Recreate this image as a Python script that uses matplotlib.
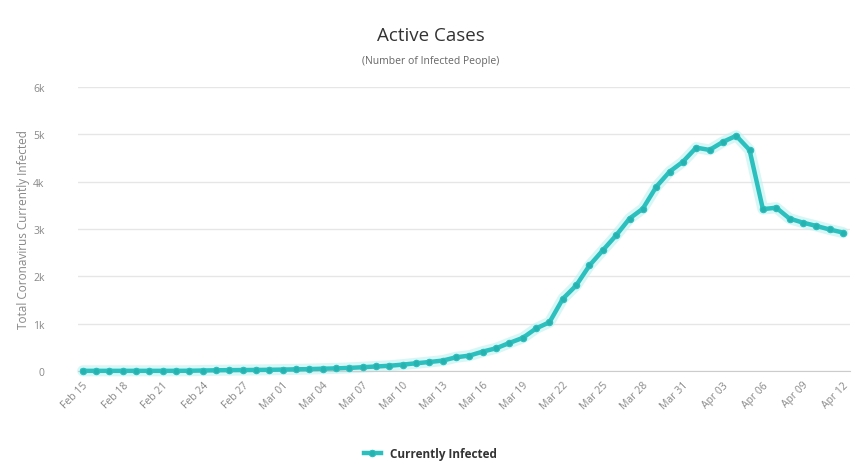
import matplotlib.pyplot as plt
import pandas as pd

plt.rcParams['font.family'] = ['Open Sans', 'DejaVu Sans']

dates = pd.date_range('2020-02-15', '2020-04-12', freq='D')
active = [3, 3, 3, 3, 3, 3, 3, 3, 5, 10,
          15, 18, 20, 22, 25, 30, 35, 40, 48, 55,
          65, 80, 95, 110, 135, 163, 190, 220, 290, 325,
          410, 480, 593, 700, 900, 1030, 1525, 1807, 2230, 2550,
          2867, 3220, 3430, 3890, 4210, 4420, 4720, 4670, 4840, 4970,
          4670, 3420, 3450, 3220, 3135, 3065, 2990, 2925]
tick_labels = [d.strftime('%b %d') for d in dates[::3]]
y_ticks = [0, 1000, 2000, 3000, 4000, 5000, 6000]
y_labels = ['0', '1k', '2k', '3k', '4k', '5k', '6k']

teal = '#2bbfbd'
x = list(range(len(dates)))

fig = plt.figure(figsize=(8.61, 4.64), dpi=100)
ax = fig.add_axes([0.0906, 0.1983, 0.8966, 0.612])

# soft halo under the series, then the line with its markers
ax.plot(x, active, color='#bdf3f1', lw=8, alpha=0.6, solid_capstyle='round',
        solid_joinstyle='round', clip_on=False, zorder=2)
ax.plot(x, active, color=teal, lw=3.2, marker='o', ms=4.6,
        markerfacecolor='#27b2b0', markeredgecolor=teal, markeredgewidth=0.8,
        solid_joinstyle='round', clip_on=False, zorder=3,
        label='Currently Infected')

ax.set_xlim(-0.35, 57.53)
ax.set_ylim(0, 6000)
ax.set_yticks(y_ticks)
ax.set_yticklabels(y_labels, color='#888888', fontsize=7.5)
ax.set_xticks(x[::3])
ax.set_xticklabels(tick_labels, rotation=45, ha='right', rotation_mode='anchor',
                   color='#888888', fontsize=7.5)
ax.tick_params(axis='both', length=0, pad=6)
ax.tick_params(axis='y', pad=24)

ax.grid(axis='y', color='#e6e6e6', lw=1)
ax.set_axisbelow(True)
for side in ['top', 'right', 'left']:
    ax.spines[side].set_visible(False)
ax.spines['bottom'].set_color('#cccccc')

ax.set_ylabel('Total Coronavirus Currently Infected', color='#888888',
              fontsize=8.5, labelpad=2)

fig.text(0.5, 0.922, 'Active Cases', ha='center', va='center',
         fontsize=13.5, color='#333333')
fig.text(0.5, 0.868, '(Number of Infected People)', ha='center', va='center',
         fontsize=7.5, color='#666666')

leg = fig.legend(loc='center', bbox_to_anchor=(0.5, 0.02), frameon=False,
                 handlelength=1.4, fontsize=8.5)
for t in leg.get_texts():
    t.set_color('#333333')
    t.set_fontweight('bold')

fig.savefig('out.png', dpi=100, facecolor='white')
